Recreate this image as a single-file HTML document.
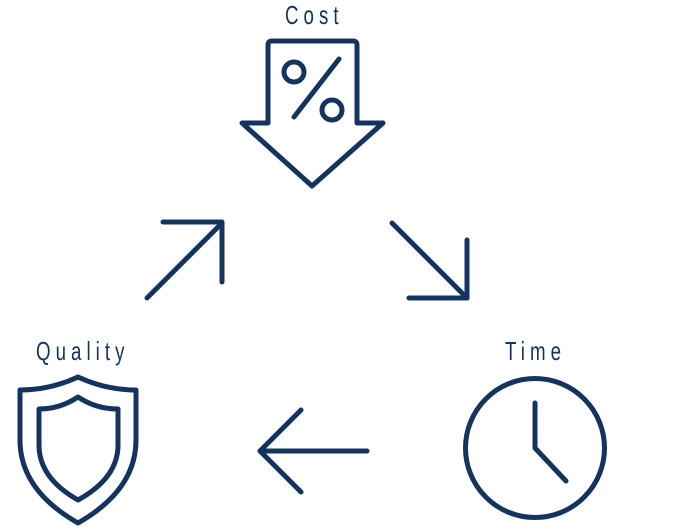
<!DOCTYPE html>
<html><head><style>
html,body{margin:0;padding:0;background:#fff;width:682px;height:528px;overflow:hidden}
svg{display:block}
text{font-family:"Liberation Sans",sans-serif;fill:#14345f;font-size:26px;letter-spacing:7px}
</style></head><body>
<svg width="682" height="528" viewBox="0 0 682 528" fill="none" stroke="#14345f" stroke-width="5" stroke-linecap="round" stroke-linejoin="round">
<text transform="translate(285,24) scale(0.72,1)" stroke="none">Cost</text>
<text transform="translate(36,360) scale(0.72,1)" stroke="none">Quality</text>
<text transform="translate(505,360) scale(0.72,1)" stroke="none">Time</text>
<!-- cost arrow -->
<path d="M272 41 H353 Q357 41 357 45 V123 H383 L312 186 L242 123 H268 V45 Q268 41 272 41 Z"/>
<circle cx="294" cy="72" r="10"/>
<circle cx="332" cy="110" r="10"/>
<line x1="294" y1="117" x2="339" y2="59"/>
<!-- shield -->
<path d="M20 390 Q50 390 78 377 Q106 390 136 390 V440 Q136 490 78 523 Q20 490 20 440 Z"/>
<path d="M39 409 Q60 409 78 397 Q96 409 118 409 V445 Q118 478 78 500 Q39 478 39 445 Z"/>
<!-- clock -->
<circle cx="535" cy="448" r="69.5"/>
<polyline points="535,403 535,448 566,481"/>
<!-- arrows -->
<line x1="147" y1="298" x2="222" y2="223"/>
<polyline points="163,222 222,222 222,282"/>
<line x1="392" y1="223" x2="467" y2="298"/>
<polyline points="409,298 467,298 467,240"/>
<line x1="260" y1="451" x2="367" y2="451"/>
<polyline points="301,410 260,451 301,492"/>
</svg>
</body></html>
